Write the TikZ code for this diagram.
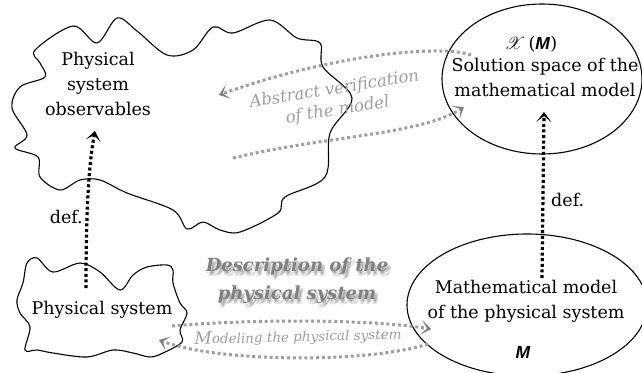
\documentclass[tikz,border=0pt]{standalone}
\usepackage{fontspec}
\setmainfont{DejaVu Serif}
\setsansfont{Liberation Sans}
\usepackage{mathrsfs}
\usetikzlibrary{arrows.meta,shapes.geometric,calc}

\begin{document}
\begin{tikzpicture}[x=1pt, y=-1pt,
  outline/.style={line width=1.1pt, line join=round},
  blob/.style={ellipse, draw, line width=1.1pt, inner sep=0pt},
  txt/.style={font=\fontsize{17.5}{25}\selectfont, align=center, inner sep=0pt},
  defline/.style={line width=3.2pt, dash pattern=on 3pt off 2.6pt,
    -{Stealth[length=10pt, width=15pt, inset=6pt]}},
  softline/.style={black!38, line width=3pt, dash pattern=on 3pt off 2.8pt,
    -{Stealth[length=10pt, width=15pt, inset=6pt, color=black!50]}},
  note/.style={text=black!38, font=\fontsize{16.5}{21}\selectfont\itshape,
    align=center, inner sep=0pt}]
\useasboundingbox (0,0) rectangle (642,372);

% observable side (cloud)
\draw[outline] plot[smooth cycle, tension=0.55] coordinates {
  (35,50) (73,26) (97,43) (117,18) (137,31) (167,55) (193,50) (213,27)
  (233,33) (270,20) (297,38) (320,43) (323,67) (352,98) (330,133) (325,177)
  (285,197) (278,213) (240,232) (220,230) (203,222) (187,229) (173,210)
  (127,193) (100,180) (80,180) (60,190) (40,177) (38,157) (15,148) (27,135)
  (12,108) (20,87) (45,77) (40,63)};
\node[txt] (obs) at (98,84) {Physical\\system\\observables};

% physical system (small cloud)
\draw[outline] plot[smooth cycle, tension=0.55] coordinates {
  (27,263) (37,258) (53,272) (80,263) (100,272) (120,290) (133,275) (147,267)
  (167,265) (173,270) (173,283) (180,303) (187,313) (180,330) (182,342)
  (163,353) (150,357) (133,353) (113,350) (87,357) (53,353) (37,350) (25,350)
  (30,327) (20,313) (17,300) (23,283)};
\node[txt] (phys) at (102,310) {Physical system};

% model side
\node[blob, minimum width=200pt, minimum height=150pt] (sol) at (542,79) {};
\node[txt] (solx) at (531,44) {$\mathscr{X}$\,(\textsf{\bfseries\itshape M})};
\node[txt] (soltxt) at (545,77) {Solution space of the\\mathematical model};

\node[blob, minimum width=240pt, minimum height=142pt] (model) at (527,305) {};
\node[txt] (modeltxt) at (526,301) {Mathematical model\\of the physical system};
\node[txt] (modelM) at (523,352) {\textsf{\bfseries\itshape M}};

% definitions
\coordinate (psTop) at (86,288);
\coordinate (obsBase) at (95,131);
\draw[defline] (psTop) .. controls (86,220) and (88,168) .. (obsBase);
\node[txt, anchor=east] (defL) at (83,217) {def.};

\coordinate (mTop) at (542,278);
\coordinate (solBase) at (544,112);
\draw[defline] (mTop) -- (solBase);
\node[txt, anchor=west] (defR) at (551,200) {def.};

% abstract verification
\coordinate (va) at (471,55);
\coordinate (vb) at (219,95);
\coordinate (vc) at (233,158);
\coordinate (vd) at (464,107);
\draw[softline] (va) .. controls (440,44) and (330,55) .. (vb);
\draw[softline] (vc) .. controls (330,135) and (420,135) .. (vd);
\node[note, rotate=9] (verif) at (336,100) {Abstract verification\\of the model};

% modeling
\coordinate (ma) at (172,326);
\coordinate (mb) at (431,329);
\coordinate (mc) at (428,344);
\coordinate (md) at (159,340);
\draw[softline] (ma) .. controls (250,319) and (370,319) .. (mb);
\draw[softline] (mc) .. controls (370,363) and (220,363) .. (md);
\node[note, font=\fontsize{13.5}{14}\selectfont\itshape, rotate=1.5] (modeling) at (298,337)
  {{\fontsize{17}{17}\selectfont M}odeling the physical system};

% description (with soft shadow)
\foreach \dx/\dy in {1/2,3/4,2/5,4/3}
  \node[txt, font=\fontsize{18}{28}\selectfont\bfseries\itshape, text=black, opacity=0.1]
    at (297+\dx,281+\dy) {Description of the\\physical system};
\node[txt, font=\fontsize{18}{28}\selectfont\bfseries\itshape, text=black!50] (desc)
  at (297,281) {Description of the\\physical system};
\end{tikzpicture}
\end{document}
